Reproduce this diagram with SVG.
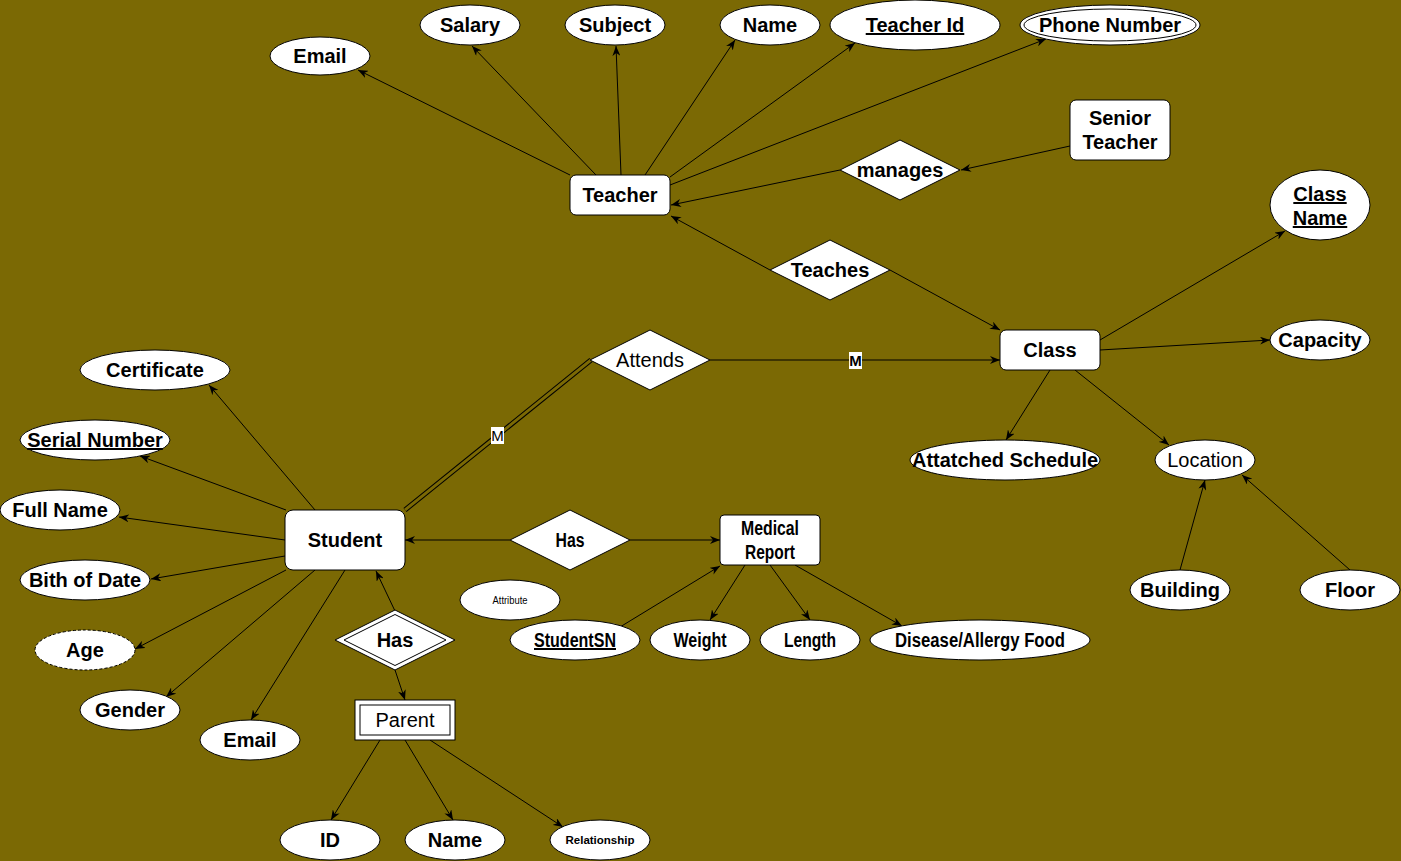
<svg xmlns="http://www.w3.org/2000/svg" width="1401" height="861" viewBox="0 0 1401 861">
<style>
.n{fill:#fff;stroke:#000;stroke-width:1}
.t{font-family:"Liberation Sans",Arial,sans-serif;font-size:20px;font-weight:bold;text-anchor:middle;fill:#000}
.r{font-weight:normal;font-size:20px}
.u{text-decoration:underline}
.e{stroke:#000;stroke-width:1;fill:none;marker-end:url(#a)}
</style>
<defs>
<marker id="a" viewBox="0 0 10 8" refX="10" refY="4" markerWidth="10" markerHeight="8" markerUnits="userSpaceOnUse" orient="auto">
<path d="M0,0 L10,4 L0,8 L3,4 z" fill="#000"/>
</marker>
</defs>
<rect x="0" y="0" width="1401" height="861" fill="#7b6904"/>

<g id="connectors">
<line class="e" x1="570" y1="175" x2="358" y2="70"/>
<line class="e" x1="596" y1="175" x2="472" y2="46"/>
<line class="e" x1="621" y1="175" x2="616" y2="46"/>
<line class="e" x1="645" y1="175" x2="735" y2="40"/>
<line class="e" x1="670" y1="177" x2="855" y2="43"/>
<line class="e" x1="670" y1="185" x2="1046" y2="39"/>
<line class="e" x1="1070" y1="146" x2="961" y2="170"/>
<line class="e" x1="840" y1="170" x2="671" y2="205"/>
<line class="e" x1="770" y1="270" x2="671" y2="216"/>
<line class="e" x1="890" y1="270" x2="1000" y2="330"/>
<line class="e" x1="710" y1="360" x2="1000" y2="360"/>
<line x1="405" y1="510" x2="591" y2="360" style="stroke:#000;stroke-width:5"/>
<line x1="405" y1="510" x2="591" y2="360" style="stroke:#7b6904;stroke-width:3"/>
<line class="e" x1="1100" y1="340" x2="1285" y2="231"/>
<line class="e" x1="1100" y1="350" x2="1270" y2="340"/>
<line class="e" x1="1050" y1="370" x2="1006" y2="440"/>
<line class="e" x1="1075" y1="370" x2="1169" y2="445"/>
<line class="e" x1="1180" y1="570" x2="1205" y2="480"/>
<line class="e" x1="1350" y1="570" x2="1242" y2="475"/>
<line class="e" x1="315" y1="510" x2="209" y2="385"/>
<line class="e" x1="286" y1="510" x2="140" y2="456"/>
<line class="e" x1="285" y1="540" x2="119" y2="517"/>
<line class="e" x1="285" y1="556" x2="151" y2="579"/>
<line class="e" x1="286" y1="570" x2="135" y2="649"/>
<line class="e" x1="315" y1="570" x2="166" y2="697"/>
<line class="e" x1="345" y1="570" x2="251" y2="720"/>
<line class="e" x1="510" y1="540" x2="405" y2="540"/>
<line class="e" x1="630" y1="540" x2="720" y2="540"/>
<line class="e" x1="620" y1="627" x2="720" y2="566"/>
<line class="e" x1="745" y1="565" x2="710" y2="620"/>
<line class="e" x1="770" y1="565" x2="810" y2="620"/>
<line class="e" x1="795" y1="565" x2="902" y2="626"/>
<line class="e" x1="395" y1="611" x2="376" y2="571"/>
<line class="e" x1="395" y1="670" x2="405" y2="700"/>
<line class="e" x1="380" y1="740" x2="331" y2="820"/>
<line class="e" x1="405" y1="740" x2="453" y2="820"/>
<line class="e" x1="430" y1="740" x2="563" y2="827"/>
<rect x="849" y="352" width="13" height="17" fill="#fff"/>
<text class="t" x="855.5" y="366" style="font-size:15px">M</text>
<rect x="491" y="427" width="13" height="17" fill="#fff"/>
<text class="t" x="497.5" y="441" style="font-size:15px;font-weight:normal">M</text>
</g>

<g id="teacher_email"><ellipse class="n" cx="320" cy="56" rx="50" ry="19"/><text class="t" x="320" y="63">Email</text></g>
<g id="salary"><ellipse class="n" cx="470" cy="25" rx="50" ry="20"/><text class="t" x="470" y="32">Salary</text></g>
<g id="subject"><ellipse class="n" cx="615" cy="25" rx="50" ry="20"/><text class="t" x="615" y="32">Subject</text></g>
<g id="teacher_name"><ellipse class="n" cx="770" cy="25" rx="50" ry="20"/><text class="t" x="770" y="32">Name</text></g>
<g id="teacher_id"><ellipse class="n" cx="915" cy="25" rx="85" ry="25"/><text class="t u" x="915" y="32">Teacher Id</text></g>
<g id="phone_number"><ellipse class="n" cx="1110" cy="25" rx="90" ry="20"/><ellipse class="n" cx="1110" cy="25" rx="86" ry="16"/><text class="t" x="1110" y="32">Phone Number</text></g>
<g id="senior_teacher"><rect class="n" x="1070" y="100" width="100" height="60" rx="6"/><text class="t" x="1120" y="125">Senior</text><text class="t" x="1120" y="149">Teacher</text></g>
<g id="manages"><polygon class="n" points="900,140 960,170 900,200 840,170"/><text class="t" x="900" y="177">manages</text></g>
<g id="teacher"><rect class="n" x="570" y="175" width="100" height="40" rx="6"/><text class="t" x="620" y="202">Teacher</text></g>
<g id="teaches"><polygon class="n" points="830,240 890,270 830,300 770,270"/><text class="t" x="830" y="277">Teaches</text></g>
<g id="class_name"><ellipse class="n" cx="1320" cy="205" rx="50" ry="35"/><text class="t u" x="1320" y="201">Class</text><text class="t u" x="1320" y="225">Name</text></g>
<g id="class"><rect class="n" x="1000" y="330" width="100" height="40" rx="6"/><text class="t" x="1050" y="357">Class</text></g>
<g id="capacity"><ellipse class="n" cx="1320" cy="340" rx="50" ry="20"/><text class="t" x="1320" y="347">Capacity</text></g>
<g id="attends"><polygon class="n" points="650,330 710,360 650,390 590,360"/><text class="t r" x="650" y="367">Attends</text></g>
<g id="attatched_schedule"><ellipse class="n" cx="1005" cy="460" rx="95" ry="20"/><text class="t" x="1005" y="467" textLength="186" lengthAdjust="spacingAndGlyphs">Attatched Schedule</text></g>
<g id="location"><ellipse class="n" cx="1205" cy="460" rx="50" ry="20"/><text class="t r" x="1205" y="467">Location</text></g>
<g id="building"><ellipse class="n" cx="1180" cy="590" rx="50" ry="20"/><text class="t" x="1180" y="597">Building</text></g>
<g id="floor"><ellipse class="n" cx="1350" cy="590" rx="50" ry="20"/><text class="t" x="1350" y="597">Floor</text></g>
<g id="certificate"><ellipse class="n" cx="155" cy="370" rx="75" ry="20"/><text class="t" x="155" y="377">Certificate</text></g>
<g id="serial_number"><ellipse class="n" cx="95" cy="440" rx="75" ry="20"/><text class="t u" x="95" y="447">Serial Number</text></g>
<g id="full_name"><ellipse class="n" cx="60" cy="510" rx="60" ry="20"/><text class="t" x="60" y="517">Full Name</text></g>
<g id="birth_date"><ellipse class="n" cx="85" cy="580" rx="65" ry="20"/><text class="t" x="85" y="587">Bith of Date</text></g>
<g id="age"><ellipse class="n" cx="85" cy="650" rx="50" ry="20" stroke-dasharray="3 2"/><text class="t" x="85" y="657">Age</text></g>
<g id="gender"><ellipse class="n" cx="130" cy="710" rx="50" ry="20"/><text class="t" x="130" y="717">Gender</text></g>
<g id="student_email"><ellipse class="n" cx="250" cy="740" rx="50" ry="20"/><text class="t" x="250" y="747">Email</text></g>
<g id="student"><rect class="n" x="285" y="510" width="120" height="60" rx="8"/><text class="t" x="345" y="547">Student</text></g>
<g id="has_medical"><polygon class="n" points="570,510 630,540 570,570 510,540"/><text class="t" x="570" y="547" textLength="29" lengthAdjust="spacingAndGlyphs">Has</text></g>
<g id="medical_report"><rect class="n" x="720" y="515" width="100" height="50" rx="4"/><text class="t" x="770" y="535" textLength="58" lengthAdjust="spacingAndGlyphs">Medical</text><text class="t" x="770" y="559" textLength="50" lengthAdjust="spacingAndGlyphs">Report</text></g>
<g id="attribute"><ellipse class="n" cx="510" cy="600" rx="50" ry="20"/><text class="t" x="510" y="604" style="font-size:11px;font-weight:normal" textLength="35" lengthAdjust="spacingAndGlyphs">Attribute</text></g>
<g id="student_sn"><ellipse class="n" cx="575" cy="640" rx="65" ry="20"/><text class="t u" x="575" y="647" textLength="82" lengthAdjust="spacingAndGlyphs">StudentSN</text></g>
<g id="weight"><ellipse class="n" cx="700" cy="640" rx="50" ry="20"/><text class="t" x="700" y="647" textLength="53" lengthAdjust="spacingAndGlyphs">Weight</text></g>
<g id="length"><ellipse class="n" cx="810" cy="640" rx="50" ry="20"/><text class="t" x="810" y="647" textLength="52" lengthAdjust="spacingAndGlyphs">Length</text></g>
<g id="disease"><ellipse class="n" cx="980" cy="640" rx="110" ry="20"/><text class="t" x="980" y="647" textLength="170" lengthAdjust="spacingAndGlyphs">Disease/Allergy Food</text></g>
<g id="has_parent"><polygon class="n" points="395,610 455,640 395,670 335,640"/><polygon class="n" points="395,614.5 446,640 395,665.5 344,640"/><text class="t" x="395" y="647">Has</text></g>
<g id="parent"><rect class="n" x="355" y="700" width="100" height="40"/><rect class="n" x="360" y="705" width="90" height="30"/><text class="t r" x="405" y="727">Parent</text></g>
<g id="parent_id"><ellipse class="n" cx="330" cy="840" rx="50" ry="20"/><text class="t" x="330" y="847">ID</text></g>
<g id="parent_name"><ellipse class="n" cx="455" cy="840" rx="50" ry="20"/><text class="t" x="455" y="847">Name</text></g>
<g id="relationship"><ellipse class="n" cx="600" cy="840" rx="50" ry="20"/><text class="t" x="600" y="844" style="font-size:11.5px">Relationship</text></g>
</svg>
